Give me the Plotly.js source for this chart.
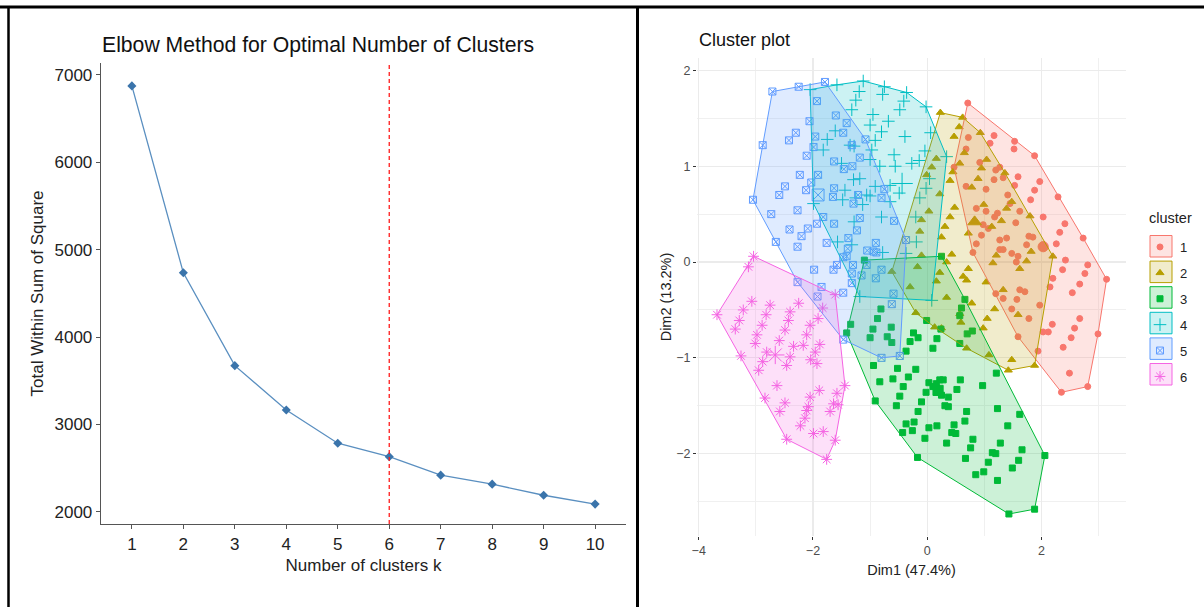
<!DOCTYPE html>
<html><head><meta charset="utf-8">
<script src="https://cdn.plot.ly/plotly-3.0.1.min.js"></script>
<style>html,body{margin:0;padding:0;background:#fff;}#chart{width:1204px;height:607px;}</style>
</head><body><div id="chart"></div>
<script>
// ---------- Elbow data ----------
const elbowK = [1,2,3,4,5,6,7,8,9,10];
const elbowWSS = [6875,4735,3672,3165,2784,2630,2418,2315,2188,2087];
const optimalK = 6;

// ---------- Cluster plot data (Dim1, Dim2) ----------
const clusterNames = ['1','2','3','4','5','6'];
const c1x = [0.71,1.17,0.72,0.68,1.10,1.53,1.52,1.88,0.92,1.20,1.27,0.47,1.59,1.33,1.17,0.68,1.53,1.03,1.97,1.88,2.29,1.41,1.81,0.86,1.03,1.45,1.23,1.18,1.62,1.55,2.03,2.41,2.32,2.73,0.98,1.07,0.95,0.86,0.80,1.27,1.39,1.78,1.85,1.74,1.27,1.33,1.48,1.59,1.56,2.26,2.42,2.81,3.14,2.76,2.37,2.20,2.67,2.54,2.15,1.62,1.71,1.20,1.57,1.97,1.33,1.48,1.78,2.67,2.19,2.03,2.12,2.58,2.52,2.38,1.59,1.94,2.49,2.35,2.81,2.99];
const c1y = [1.66,1.32,1.30,1.18,1.24,1.26,1.18,1.11,1.04,0.96,0.99,0.99,0.89,0.88,0.86,0.79,0.80,0.76,0.84,0.75,0.68,0.70,0.65,0.56,0.53,0.61,0.51,0.47,0.53,0.41,0.47,0.40,0.31,0.25,0.39,0.35,0.28,0.19,0.10,0.23,0.25,0.27,0.26,0.18,0.13,0.13,0.09,0.06,0.00,0.19,0.02,-0.03,-0.18,-0.12,-0.08,-0.17,-0.23,-0.32,-0.26,-0.29,-0.31,-0.33,-0.39,-0.45,-0.38,-0.49,-0.59,-0.59,-0.65,-0.73,-0.73,-0.69,-0.79,-0.89,-0.78,-0.93,-1.16,-1.36,-1.30,-0.75];
const c2x = [0.23,0.62,0.56,0.47,0.93,0.16,0.08,0.57,0.65,1.04,0.95,0.45,1.36,0.89,0.78,0.40,0.22,-0.01,0.48,0.40,0.99,1.39,1.48,1.80,1.13,1.30,0.72,0.25,0.31,0.03,-0.10,-0.13,-0.10,0.43,0.72,0.34,0.22,0.63,0.16,0.69,1.03,1.15,1.21,1.74,1.82,1.62,1.33,0.34,0.57,0.78,0.59,1.18,1.05,0.98,-0.20,-0.30,0.13,0.25,1.59,2.20,1.88,1.48,1.42,1.08,0.69,-0.62,-0.17];
const c2y = [1.56,1.51,1.41,1.31,1.35,1.08,0.99,1.03,1.14,1.07,0.98,0.94,0.93,0.87,0.78,0.85,0.71,0.91,0.57,0.47,0.60,0.56,0.63,0.48,0.37,0.43,0.30,0.26,0.37,0.53,0.44,0.32,0.07,0.08,-0.07,0.00,-0.11,-0.15,-0.20,-0.19,-0.21,-0.01,0.07,0.01,0.11,-0.07,-0.29,-0.37,-0.54,-0.43,-0.63,-0.49,-0.59,-0.69,-0.53,-0.26,-0.68,-0.69,-0.55,0.06,-1.08,-1.02,-1.13,-0.97,-0.90,-0.10,-0.05];
const c3x = [0.25,-1.10,-1.34,-1.41,-0.81,-0.87,-0.63,-0.95,-1.00,-0.70,-0.62,-0.24,-0.16,-0.30,-0.37,-0.01,0.17,0.24,0.10,0.57,0.70,0.79,0.60,0.66,0.57,-0.94,-0.83,-0.52,-0.60,-0.33,-0.20,-0.42,-0.48,-0.54,-0.91,0.03,0.16,0.10,0.25,0.37,0.22,0.28,0.52,0.58,0.97,-0.02,-0.10,-0.16,0.31,0.37,0.69,1.23,1.62,-0.37,-0.23,0.03,0.17,-0.43,-0.26,-0.04,0.47,0.66,0.43,0.50,0.34,0.80,0.76,1.28,1.41,1.14,1.20,1.66,1.49,1.60,1.07,0.99,0.85,1.23,0.67,-0.17,2.06,1.88,1.43,1.21];
const c3y = [0.06,0.02,-0.65,-0.74,-0.49,-0.59,-0.68,-0.70,-0.79,-0.78,-0.84,-0.74,-0.79,-0.83,-0.93,-0.61,-0.80,-0.70,-0.90,-0.85,-0.75,-0.72,-0.48,-0.39,-0.56,-1.08,-1.25,-1.11,-1.22,-1.20,-1.12,-1.30,-1.40,-1.50,-1.45,-1.26,-1.27,-1.30,-1.39,-1.41,-1.23,-1.23,-1.33,-1.23,-1.29,-1.36,-1.46,-1.56,-1.50,-1.51,-1.56,-1.53,-1.59,-1.69,-1.67,-1.73,-1.71,-1.78,-1.76,-1.84,-1.70,-1.66,-1.78,-1.79,-1.89,-1.85,-1.94,-1.89,-1.71,-1.99,-2.00,-1.96,-2.15,-2.07,-2.09,-2.19,-2.22,-2.28,-2.05,-2.04,-2.02,-2.58,-2.63,-1.16];
const c4x = [-2.05,-1.58,-1.12,-1.19,-0.75,-0.36,-1.25,-0.78,-0.41,-0.02,-0.48,-1.32,-0.95,-1.00,-0.68,-1.61,-0.80,-1.75,-1.35,-1.28,-0.91,-0.39,-1.82,-0.97,-0.58,0.06,-0.04,-1.00,-0.83,-0.56,-0.27,-0.14,-1.50,-1.18,-1.29,-0.91,-0.65,-0.49,-0.02,-1.06,-1.00,-1.44,-1.48,-1.25,-1.13,-0.65,-0.80,-1.28,-0.20,-0.19,-1.57,-1.32,-0.78,-1.99,0.34,0.08,0.04,-0.13,-1.18,-0.37];
const c4y = [1.80,1.85,1.89,1.78,1.83,1.77,1.69,1.75,1.68,1.62,1.59,1.59,1.54,1.43,1.47,1.37,1.36,1.28,1.22,1.21,1.27,1.31,1.17,1.17,1.12,1.35,1.16,1.07,1.00,1.00,1.03,1.06,1.03,0.87,0.86,0.79,0.80,0.72,0.77,0.70,0.69,0.75,0.65,0.67,0.60,0.63,0.47,0.42,0.47,0.21,0.21,0.18,0.10,0.61,1.10,-0.40,0.87,0.67,-0.36,0.09];
const c5x = [-2.71,-2.25,-1.79,-1.93,-2.06,-1.60,-1.41,-2.30,-2.42,-2.88,-1.96,-1.99,-2.11,-1.47,-1.08,-1.32,-1.18,-1.63,-1.46,-1.31,-2.23,-1.91,-2.03,-2.49,-2.59,-2.12,-1.63,-1.65,-1.21,-1.29,-0.80,-0.75,-3.05,-2.27,-2.73,-1.18,-1.63,-1.82,-1.93,-2.09,-2.41,-2.20,-1.23,-1.38,-1.76,-2.27,-2.65,-0.90,-1.05,-0.94,-0.58,-0.37,-1.39,-1.47,-1.64,-1.98,-1.32,-0.89,-1.15,-0.59,-1.58,-1.41,-1.92,-1.85,-1.47,-0.80,-0.48,-0.62,-0.90,-0.80,-1.06,-1.30,-1.47,-2.27,-1.32];
const c5y = [1.78,1.83,1.88,1.68,1.47,1.53,1.45,1.35,1.27,1.22,1.31,1.20,1.11,1.35,1.28,1.22,1.09,1.05,0.97,1.00,0.91,0.91,0.83,0.79,0.70,0.75,0.77,0.68,0.70,0.61,0.67,0.76,0.65,0.54,0.50,0.46,0.40,0.47,0.40,0.35,0.34,0.27,0.33,0.25,0.20,0.16,0.21,0.20,0.12,0.11,0.43,0.23,0.14,0.05,-0.08,-0.08,-0.12,0.10,-0.14,-0.33,-0.03,0.06,-0.36,-0.26,-0.32,-1.00,-0.98,-0.44,-0.17,-0.08,-0.03,-0.03,-0.81,-0.21,-0.22];
const c6x = [-3.04,-3.13,-3.68,-3.07,-2.75,-3.22,-3.29,-3.36,-2.82,-2.89,-2.98,-3.01,-2.59,-2.49,-2.40,-2.25,-2.43,-1.91,-1.83,-2.05,-2.11,-2.17,-2.34,-1.88,-1.96,-2.04,-1.93,-2.40,-2.46,-2.81,-2.88,-2.95,-3.26,-2.63,-2.84,-2.49,-2.58,-2.08,-2.11,-2.14,-2.22,-2.05,-1.89,-1.58,-1.44,-1.64,-1.56,-1.70,-2.46,-1.99,-1.82,-1.61,-1.76,-1.61];
const c6y = [0.06,-0.05,-0.55,-0.41,-0.45,-0.50,-0.61,-0.70,-0.55,-0.66,-0.76,-0.85,-0.82,-0.71,-0.52,-0.43,-0.61,-0.59,-0.48,-0.66,-0.76,-0.87,-0.88,-0.86,-0.94,-1.02,-1.06,-0.99,-1.08,-0.94,-1.04,-1.13,-0.98,-1.29,-1.42,-1.47,-1.56,-1.51,-1.55,-1.63,-1.71,-1.41,-1.34,-1.37,-1.29,-1.48,-1.49,-1.56,-1.85,-1.79,-1.77,-1.86,-2.06,-0.34];
const centerX = [2.03,0.83,0.19,-0.44,-1.91,-2.66];
const centerY = [0.16,0.42,-1.34,0.82,0.70,-0.97];

// ---------- styles ----------
const colors = ['#F8766D','#B79F00','#00BA38','#00BFC4','#619CFF','#F564E3'];
const fills = ['rgba(248,118,109,0.2)','rgba(183,159,0,0.2)','rgba(0,186,56,0.2)','rgba(0,191,196,0.2)','rgba(97,156,255,0.2)','rgba(245,100,227,0.2)'];
const symbols = ['circle','triangle-up','square','cross-thin-open','square-x-open','asterisk-open'];
const sizes = [6,7,6,9,7,9];
const FONT = 'Liberation Sans, Arial, sans-serif';

function convexHull(xs, ys){
  const p = xs.map((x,i)=>[x,ys[i]]).sort((a,b)=>a[0]-b[0]||a[1]-b[1]);
  const cross=(o,a,b)=>(a[0]-o[0])*(b[1]-o[1])-(a[1]-o[1])*(b[0]-o[0]);
  const lo=[],up=[];
  for(const q of p){while(lo.length>=2&&cross(lo[lo.length-2],lo[lo.length-1],q)<=0)lo.pop();lo.push(q);}
  for(let i=p.length-1;i>=0;i--){const q=p[i];while(up.length>=2&&cross(up[up.length-2],up[up.length-1],q)<=0)up.pop();up.push(q);}
  up.pop();lo.pop();
  const h=lo.concat(up); h.push(h[0]);
  return {x:h.map(d=>d[0]), y:h.map(d=>d[1])};
}

const clustersX = [c1x,c2x,c3x,c4x,c5x,c6x];
const clustersY = [c1y,c2y,c3y,c4y,c5y,c6y];

const traces = [];
// elbow
traces.push({x:elbowK, y:elbowWSS, type:'scatter', mode:'lines+markers', xaxis:'x', yaxis:'y',
  line:{color:'#5A8FC0', width:1.3}, marker:{symbol:'diamond', size:7, color:'#3A74AB'}, showlegend:false, hoverinfo:'skip'});

// cluster points (legend entries)
for(let i=0;i<6;i++){
  traces.push({x:clustersX[i], y:clustersY[i], type:'scatter', mode:'markers', xaxis:'x2', yaxis:'y2',
    name:clusterNames[i], legendgroup:'g'+i,
    marker:{symbol:symbols[i], size:sizes[i], color:colors[i], line:{color:colors[i], width:1}},
    showlegend:true, hoverinfo:'skip'});
  traces.push({x:[centerX[i]], y:[centerY[i]], type:'scatter', mode:'markers', xaxis:'x2', yaxis:'y2',
    marker:{symbol:symbols[i], size:sizes[i]*1.7, color:colors[i], line:{color:colors[i], width:1}},
    showlegend:false, legendgroup:'g'+i, hoverinfo:'skip'});
}
// hulls
for(let i=0;i<6;i++){
  const h = convexHull(clustersX[i], clustersY[i]);
  traces.push({x:h.x, y:h.y, type:'scatter', mode:'lines', fill:'toself', fillcolor:fills[i],
    xaxis:'x2', yaxis:'y2', legendgroup:'g'+i, showlegend:false,
    line:{color:colors[i], width:1}, hoverinfo:'skip'});
}

const W=1204, H=607;
// legend key boxes (behind the legend symbols)
const keyTop = 235.5, keyStep = 25.6, keyH = 21.5;
const keyShapes = clusterNames.map((n,i)=>({type:'rect', xref:'paper', yref:'paper', layer:'above',
  x0:1150/W, x1:1172/W, y0:1-(keyTop+i*keyStep+keyH)/H, y1:1-(keyTop+i*keyStep)/H,
  fillcolor:fills[i], line:{color:colors[i], width:1}}));

const layout = {
  width:W, height:H, margin:{l:0,r:0,t:0,b:0}, paper_bgcolor:'#fff', plot_bgcolor:'rgba(0,0,0,0)',
  font:{family:FONT, color:'#222'},
  xaxis:{domain:[101/W,626/W], range:[0.4,10.6], tickvals:elbowK, showgrid:false, zeroline:false,
    showline:true, linecolor:'#555', linewidth:1.3, ticks:'outside', ticklen:4, tickcolor:'#555',
    tickfont:{size:17, color:'#222'}, anchor:'y',
    title:{text:'Number of clusters k', font:{size:17, color:'#222'}, standoff:6}},
  yaxis:{domain:[1-524/H,1-63/H], range:[1859,7137], tickvals:[2000,3000,4000,5000,6000,7000], showgrid:false, zeroline:false,
    showline:true, linecolor:'#555', linewidth:1.3, ticks:'outside', ticklen:4, tickcolor:'#555',
    tickfont:{size:17, color:'#222'}, anchor:'x',
    title:{text:'Total Within Sum of Square', font:{size:17, color:'#222'}, standoff:6}},
  xaxis2:{domain:[697/W,1126/W], range:[-4.03,3.48], tickvals:[-4,-2,0,2], showgrid:true, gridcolor:'#EBEBEB', gridwidth:1.2,
    minor:{tickvals:[-3,-1,1,3], showgrid:true, gridcolor:'#F0F0F0', gridwidth:1, ticks:''},
    zeroline:false, showline:false, ticks:'outside', ticklen:3, tickcolor:'#333',
    tickfont:{size:12.5, color:'#4D4D4D'}, anchor:'y2',
    title:{text:'Dim1 (47.4%)', font:{size:14.5, color:'#222'}, standoff:7}},
  yaxis2:{domain:[1-536/H,1-58/H], range:[-2.86,2.13], tickvals:[-2,-1,0,1,2], showgrid:true, gridcolor:'#EBEBEB', gridwidth:1.2,
    minor:{tickvals:[-2.5,-1.5,-0.5,0.5,1.5], showgrid:true, gridcolor:'#F0F0F0', gridwidth:1, ticks:''},
    zeroline:false, showline:false, ticks:'outside', ticklen:3, tickcolor:'#333',
    tickfont:{size:12.5, color:'#4D4D4D'}, anchor:'x2',
    title:{text:'Dim2 (13.2%)', font:{size:14.5, color:'#222'}, standoff:1}},
  showlegend:true,
  legend:{x:1140/W, y:1-232/H, xanchor:'left', yanchor:'top', bgcolor:'rgba(0,0,0,0)',
    font:{size:13, color:'#222'}, tracegroupgap:6, itemwidth:30},
  annotations:[
    {text:'Elbow Method for Optimal Number of Clusters', xref:'paper', yref:'paper', x:100/W, y:1-45/H,
     xanchor:'left', yanchor:'middle', showarrow:false, font:{size:21.2, color:'#111'}},
    {text:'Cluster plot', xref:'paper', yref:'paper', x:697/W, y:1-40/H,
     xanchor:'left', yanchor:'middle', showarrow:false, font:{size:18, color:'#111'}},
    {text:'cluster', xref:'paper', yref:'paper', x:1147/W, y:1-218/H,
     xanchor:'left', yanchor:'middle', showarrow:false, font:{size:14.5, color:'#222'}}
  ],
  shapes:[
    {type:'line', xref:'x', yref:'y domain', x0:optimalK, x1:optimalK, y0:0, y1:1, line:{color:'#FF1A1A', width:1.3, dash:'4px,3px'}},
    {type:'line', xref:'paper', yref:'paper', x0:0, x1:1, y0:1-7/H, y1:1-7/H, line:{color:'#000', width:3}},
    {type:'line', xref:'paper', yref:'paper', x0:8.5/W, x1:8.5/W, y0:0, y1:1-7/H, line:{color:'#000', width:2.5}},
    {type:'line', xref:'paper', yref:'paper', x0:637.5/W, x1:637.5/W, y0:0, y1:1-7/H, line:{color:'#000', width:3}}
  ].concat(keyShapes)
};
Plotly.newPlot('chart', traces, layout, {displayModeBar:false, staticPlot:true});
</script></body></html>
